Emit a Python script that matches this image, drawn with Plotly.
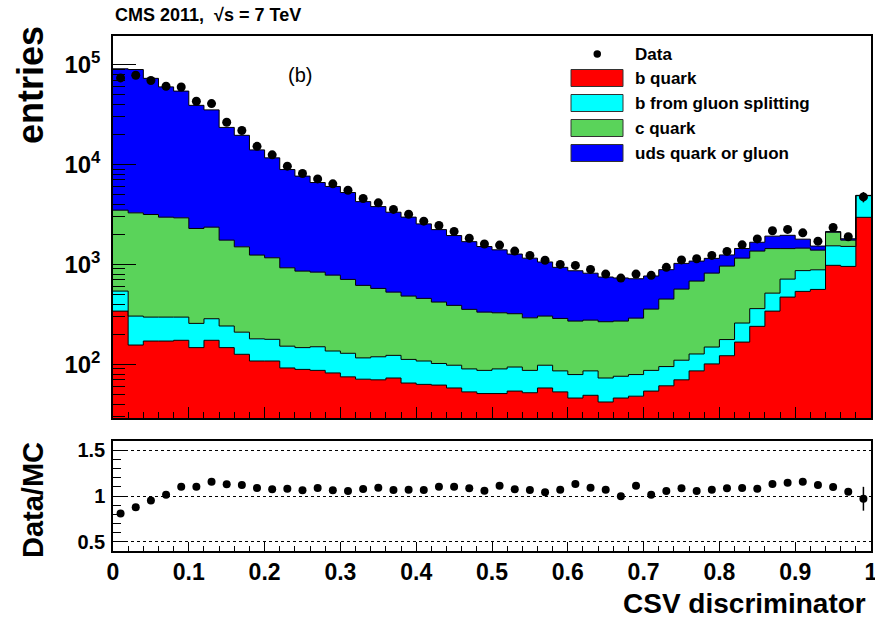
import numpy as np
import plotly.graph_objects as go

# CSV discriminator, 50 bins of width 0.02
edges = np.round(np.linspace(0, 1, 51), 2)
centers = (edges[:-1] + edges[1:]) / 2

b_quark = [341, 156, 171, 171, 174, 147, 174, 147, 126, 108,
           108, 92, 89, 87, 82, 75, 71, 70, 73, 65,
           63, 62, 58, 53, 51, 51, 54, 52, 58, 53,
           46, 49, 42, 46, 48, 54, 61, 70, 86, 101,
           122, 167, 240, 341, 471, 537, 562, 979, 955, 2960]
b_gsplit = [200, 148, 126, 126, 123, 110, 112, 95, 84, 72,
            70, 60, 58, 63, 54, 54, 45, 49, 50, 47,
            45, 40, 40, 37, 36, 39, 40, 35, 40, 33,
            33, 37, 31, 30, 31, 33, 34, 40, 41, 48,
            55, 92, 121, 175, 242, 330, 321, 556, 559, 1915]
c_quark = [2949, 2976, 2863, 2673, 2628, 2033, 2074, 1508, 1290, 1060,
           987, 773, 710, 687, 645, 579, 501, 456, 405, 370,
           349, 318, 291, 265, 246, 238, 227, 205, 206, 202,
           192, 191, 194, 195, 211, 270, 355, 456, 554, 669,
           785, 897, 999, 924, 727, 588, 507, 565, 236, 15]
uds_gluon = [87210, 85920, 69640, 56830, 51375, 36810, 32840, 21750, 18100, 12760,
             10485, 7975, 6793, 5763, 5249, 4532, 3633, 3215, 2802, 2493,
             2088, 1810, 1556, 1335, 1177, 1072, 949, 863, 754, 647,
             593, 540, 481, 461, 429, 409, 436, 458, 399, 332,
             283, 288, 307, 479, 516, 335, 137, 31, 55, 20]
data = [73500, 78200, 69200, 60700, 59700, 43000, 40700, 26500, 21900, 15200,
        12500, 9620, 8130, 7180, 6400, 5530, 4570, 4130, 3550, 3180,
        2710, 2450, 2140, 1830, 1600, 1560, 1360, 1230, 1100, 1000,
        977, 891, 800, 730, 800, 778, 935, 1110, 1140, 1230,
        1350, 1570, 1800, 2170, 2240, 2070, 1710, 2340, 1890, 4740]
data_err = [0] * 49 + [560]
ratio = [0.81, 0.877, 0.95, 1.015, 1.10, 1.10, 1.156, 1.127, 1.12, 1.087,
         1.073, 1.08, 1.062, 1.087, 1.062, 1.055, 1.076, 1.091, 1.065, 1.069,
         1.065, 1.10, 1.10, 1.084, 1.058, 1.113, 1.073, 1.065, 1.04, 1.069,
         1.131, 1.091, 1.069, 0.997, 1.113, 1.015, 1.055, 1.084, 1.055, 1.069,
         1.084, 1.087, 1.08, 1.131, 1.145, 1.156, 1.12, 1.098, 1.047, 0.97]
ratio_err = [0] * 49 + [0.13]

x_ticks = [0, 0.1, 0.2, 0.3, 0.4, 0.5, 0.6, 0.7, 0.8, 0.9, 1]
x_ticktext = ["0", "0.1", "0.2", "0.3", "0.4", "0.5", "0.6", "0.7", "0.8", "0.9", "1"]

labels = ["b quark", "b from gluon splitting", "c quark", "uds quark or gluon"]
colours = ["#ff0000", "#00ffff", "#5ad35a", "#0000ff"]

FONT = "Liberation Sans"
L, R, T, B = 113, 4, 36, 71
W, H = 875, 622


def px(x):
    return (x - L) / (W - L - R)


def py(y):
    return (H - B - y) / (H - T - B)


fig = go.Figure()

# invisible floor for the first filled layer
fig.add_trace(go.Scatter(x=edges, y=[1] * len(edges), mode="lines", line=dict(width=0),
                         showlegend=False, hoverinfo="skip"))
stack = np.cumsum([b_quark, b_gsplit, c_quark, uds_gluon], axis=0)
for level, colour, name in zip(stack, colours, labels):
    fig.add_trace(go.Scatter(
        x=edges, y=np.append(level, level[-1]), mode="lines", name=name,
        line=dict(color="black", width=1, shape="hv"),
        fill="tonexty", fillcolor=colour, showlegend=False,
    ))

fig.add_trace(go.Scatter(
    x=centers, y=data, mode="markers", name="Data",
    marker=dict(color="black", size=9),
    error_y=dict(type="data", array=data_err, color="black", thickness=1.5, width=0),
    showlegend=False,
))

fig.add_trace(go.Scatter(
    x=centers, y=ratio, mode="markers", xaxis="x2", yaxis="y2",
    marker=dict(color="black", size=8),
    error_y=dict(type="data", array=ratio_err, color="black", thickness=1.5, width=0),
    showlegend=False,
))

minor_log = [m * 10 ** k for k in range(1, 6) for m in range(2, 10)]
frame = dict(showline=True, mirror=True, linecolor="black", linewidth=1.5, showgrid=False,
             zeroline=False, ticks="inside", tickcolor="black", automargin=False,
             ticklabeloverflow="allow")

fig.update_layout(
    width=W, height=H,
    margin=dict(l=L, r=R, t=T, b=B),
    paper_bgcolor="white", plot_bgcolor="white",
    font=dict(family=FONT, color="black"),
    xaxis=dict(frame, domain=[0, 1], range=[0, 1], anchor="y", showticklabels=False,
               tickvals=x_ticks, ticklen=11,
               minor=dict(ticks="inside", dtick=0.02, tick0=0, ticklen=6, tickcolor="black")),
    yaxis=dict(frame, domain=[py(418), 1], type="log", range=[1.463, 5.286], anchor="x",
               tickvals=[100, 1000, 10000, 100000],
               ticktext=["10<sup>2</sup>", "10<sup>3</sup>", "10<sup>4</sup>", "10<sup>5</sup>"],
               ticklen=23, tickfont=dict(size=24, weight="bold"), ticklabelstandoff=6,
               minor=dict(ticks="inside", tickvals=minor_log, ticklen=12, tickcolor="black")),
    xaxis2=dict(frame, domain=[0, 1], range=[0, 1], anchor="y2",
                tickvals=x_ticks, ticktext=x_ticktext, tickangle=0,
                ticklen=9, tickfont=dict(size=23, weight="bold"),
                minor=dict(ticks="inside", dtick=0.02, tick0=0, ticklen=5, tickcolor="black")),
    yaxis2=dict(frame, domain=[0, py(441)], range=[0.4, 1.6], anchor="x2",
                tickvals=[0.5, 1, 1.5], ticktext=["0.5", "1", "1.5"], ticklen=15,
                tickfont=dict(size=20, weight="bold"), ticklabelstandoff=2,
                showgrid=True, gridcolor="black", griddash="dot", gridwidth=1,
                minor=dict(ticks="inside", dtick=0.1, tick0=0, ticklen=8, tickcolor="black")),
)

annotations = [
    dict(text="CMS 2011,  √s = 7 TeV", x=px(113), y=py(15), xanchor="left", yanchor="middle",
         font=dict(size=18, weight="bold")),
    dict(text="(b)", x=px(300), y=py(75), xanchor="center", yanchor="middle",
         font=dict(size=20)),
    dict(text="entries", x=px(30), y=py(85), xanchor="center", yanchor="middle",
         textangle=-90, font=dict(size=36, weight="bold")),
    dict(text="Data/MC", x=px(33), y=py(500), xanchor="center", yanchor="middle",
         textangle=-90, font=dict(size=29, weight="bold")),
    dict(text="CSV discriminator", x=px(868), y=py(603), xanchor="right", yanchor="middle",
         font=dict(size=28, weight="bold")),
]

# hand-built legend, ROOT style
rows = [54, 78, 103, 128, 153]
annotations.append(dict(text="Data", x=px(633), y=py(rows[0]), xanchor="left", yanchor="middle",
                        font=dict(size=17, weight="bold")))
shapes = [dict(type="circle", xref="paper", yref="paper",
               x0=px(593.5), x1=px(601), y0=py(57.7), y1=py(50.3),
               fillcolor="black", line=dict(width=0))]
for yy, name, colour in zip(rows[1:], labels, colours):
    shapes.append(dict(type="rect", xref="paper", yref="paper",
                       x0=px(571), x1=px(623), y0=py(yy + 8.5), y1=py(yy - 8.5),
                       fillcolor=colour, line=dict(color="#333333", width=1)))
    annotations.append(dict(text=name, x=px(633), y=py(yy), xanchor="left", yanchor="middle",
                            font=dict(size=17, weight="bold")))

for a in annotations:
    a.update(xref="paper", yref="paper", showarrow=False)

fig.update_layout(annotations=annotations, shapes=shapes)

# page body has a default 8px margin; drop it so the figure fills the window
fig.write_html("out.html", config={"displayModeBar": False},
               post_script="document.body.style.margin='0';")
